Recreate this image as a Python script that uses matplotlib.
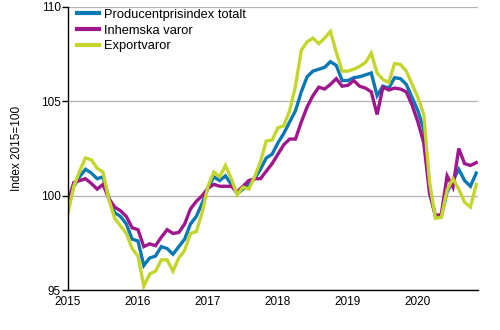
import numpy as np
import matplotlib
matplotlib.use("Agg")
import matplotlib.pyplot as plt

plt.rcParams['font.family'] = ['Liberation Sans', 'DejaVu Sans']

# Monthly index values, January 2015 - November 2020 (2015=100)
start_year = 2015
producentpris_totalt = [
    99.4, 100.5, 101.0, 101.4, 101.2, 100.9, 101.0, 99.9, 99.1, 98.9, 98.5, 97.7,
    97.6, 96.3, 96.7, 96.8, 97.3, 97.2, 96.9, 97.3, 97.7, 98.5, 98.9, 99.6,
    100.4, 101.0, 100.8, 101.05, 100.6, 100.1, 100.35, 100.6, 100.9, 101.4, 102.0, 102.2,
    102.8, 103.3, 103.9, 104.5, 105.5, 106.3, 106.6, 106.7, 106.8, 107.1, 106.9, 106.1,
    106.1, 106.25, 106.3, 106.4, 106.5, 105.3, 105.8, 105.7, 106.25, 106.2, 105.9, 105.2,
    104.5, 103.5, 100.3, 98.9, 98.9, 100.2, 100.8, 101.4, 100.8, 100.5, 101.2,
]
inhemska_varor = [
    99.7, 100.7, 100.8, 100.9, 100.65, 100.35, 100.6, 99.85, 99.4, 99.2, 98.9, 98.3,
    98.2, 97.3, 97.45, 97.35, 97.8, 98.2, 98.0, 98.05, 98.5, 99.3, 99.7, 100.0,
    100.4, 100.6, 100.5, 100.5, 100.5, 100.2, 100.5, 100.8, 100.9, 100.9, 101.3, 101.7,
    102.2, 102.7, 103.0, 103.0, 103.9, 104.7, 105.3, 105.75, 105.65, 105.9, 106.2, 105.8,
    105.85, 106.1, 105.8, 105.7, 105.5, 104.3, 105.75, 105.6, 105.7, 105.65, 105.5, 104.8,
    103.9, 102.8, 100.1, 98.95, 99.0, 101.05, 100.45, 102.5, 101.7, 101.6, 101.75,
]
exportvaror = [
    99.1, 100.5, 101.3, 102.0, 101.9, 101.45, 101.25, 99.8, 98.8, 98.4, 98.0, 97.2,
    96.8, 95.2, 95.85, 96.0, 96.6, 96.6, 96.0, 96.7, 97.1, 98.0, 98.1, 99.1,
    100.5, 101.25, 101.0, 101.6, 100.9, 100.05, 100.45, 100.35, 101.0, 101.8, 102.9, 102.95,
    103.6, 103.7, 104.5, 105.8, 107.7, 108.15, 108.35, 108.05, 108.35, 108.7, 107.6, 106.6,
    106.6, 106.7, 106.85, 107.05, 107.55, 106.5, 106.15, 106.0, 107.0, 106.95, 106.6, 105.9,
    105.2, 104.3, 100.7, 98.8, 98.85, 100.3, 100.9, 100.35, 99.65, 99.4, 100.6,
]
series_labels = ["Producentprisindex totalt", "Inhemska varor", "Exportvaror"]
series_colors = ["#0a78b4", "#a0168c", "#c4d62c"]
year_ticks = [2015, 2016, 2017, 2018, 2019, 2020]
y_ticks = [95, 100, 105, 110]

months = start_year + np.arange(len(producentpris_totalt)) / 12.0

fig = plt.figure(figsize=(5.0, 3.3), dpi=100)
ax = fig.add_axes([0.136, 0.121, 0.82, 0.858])

for values, label, color in zip(
        [producentpris_totalt, inhemska_varor, exportvaror], series_labels, series_colors):
    ax.plot(months, values, color=color, lw=2.4, label=label, solid_joinstyle='miter')

ax.set_xlim(start_year, start_year + 70.3 / 12.0)
ax.set_ylim(95, 110)
ax.set_yticks(y_ticks)
ax.set_xticks(year_ticks)
ax.set_xticklabels([str(y) for y in year_ticks])
ax.grid(axis='y', color='#b4b4b4', lw=0.9)
ax.set_axisbelow(True)

for side in ['top', 'right']:
    ax.spines[side].set_visible(False)
for side in ['left', 'bottom']:
    ax.spines[side].set_color('black')
    ax.spines[side].set_linewidth(1.0)

ax.tick_params(axis='x', length=0, pad=4, labelsize=8.5)
ax.tick_params(axis='y', length=4, width=1.0, pad=1, labelsize=8.5)
ax.set_ylabel("Index 2015=100", fontsize=8.5, labelpad=13)

leg = ax.legend(loc='upper left', bbox_to_anchor=(0.0, 1.025), frameon=False,
                fontsize=9.3, handlelength=1.7, handletextpad=0.35,
                labelspacing=0.28, borderaxespad=0.3)
for line in leg.get_lines():
    line.set_linewidth(3.0)

fig.savefig("out.png", dpi=100)
